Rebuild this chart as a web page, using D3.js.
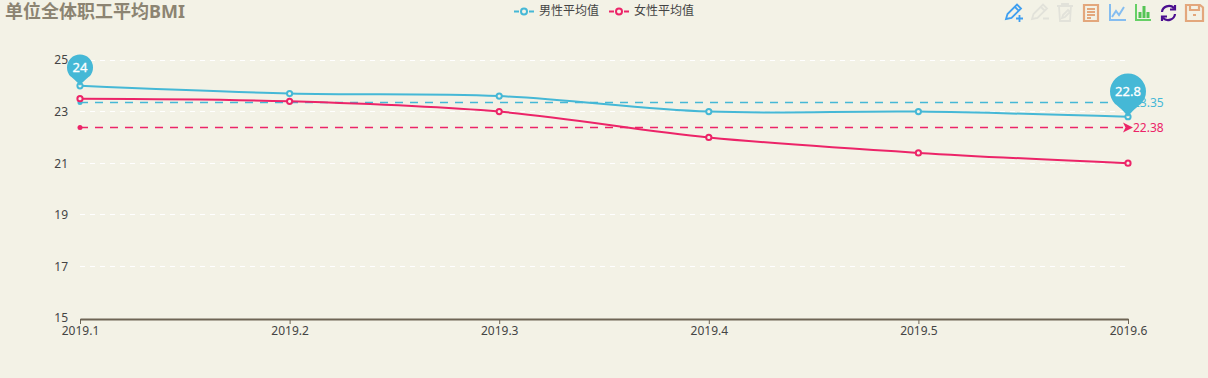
<!DOCTYPE html>
<html>
<head>
<meta charset="utf-8">
<script src="https://d3js.org/d3.v7.min.js"></script>
<style>
  html, body { margin: 0; padding: 0; background: #f3f2e6; }
  svg { display: block; }
  text { font-family: "Noto Sans", "Noto Sans CJK SC", sans-serif; }
</style>
</head>
<body>
<div id="canvas"></div>
<script>
"use strict";

/* data */
let months = ["2019.1", "2019.2", "2019.3", "2019.4", "2019.5", "2019.6"];
let maleValues = [24, 23.7, 23.6, 23, 23, 22.8];
let femaleValues = [23.5, 23.4, 23, 22, 21.4, 21];
let yTicks = [15, 17, 19, 21, 23, 25];
let maleMean = 23.35;
let femaleMean = 22.38;
let seriesNames = ["男性平均值", "女性平均值"];

/* config */
let svgWidth = 1208;
let svgHeight = 378;
let marginLeft = 80;
let marginRight = 80;
let marginTop = 60;
let marginBottom = 60;

let maleColor = "#45b8d6";
let femaleColor = "#ec2468";
let axisColor = "#6e6555";
let textColor = "#444444";

let svg = d3.select("#canvas")
    .append("svg")
    .attr("width", svgWidth)
    .attr("height", svgHeight);

let xScale = d3.scalePoint()
    .domain(months)
    .range([marginLeft, svgWidth - marginRight]);

let yScale = d3.scaleLinear()
    .domain([15, 25])
    .range([svgHeight - marginBottom, marginTop]);

/* title */
svg.append("text")
    .attr("x", 5)
    .attr("y", 18)
    .attr("font-size", 18)
    .attr("font-weight", "bold")
    .attr("fill", "#8c8472")
    .text("单位全体职工平均BMI");

/* legend */
[[514, maleColor], [609, femaleColor]].forEach(function(item, i) {
    let g = svg.append("g").attr("transform", "translate(" + item[0] + ",11.5)");
    g.append("line")
        .attr("x1", 0).attr("x2", 20)
        .attr("stroke", item[1])
        .attr("stroke-width", 2)
        .attr("stroke-dasharray", "5,10,5");
    g.append("circle")
        .attr("cx", 10)
        .attr("r", 3)
        .attr("fill", "#f3f2e6")
        .attr("stroke", item[1])
        .attr("stroke-width", 2);
    g.append("text")
        .attr("x", 25)
        .attr("y", 3)
        .attr("font-size", 12)
        .attr("fill", textColor)
        .text(seriesNames[i]);
});

/* y axis: labels + white dashed grid */
let yAxis = svg.append("g")
    .attr("transform", "translate(" + marginLeft + ",0)")
    .call(d3.axisLeft(yScale)
        .tickValues(yTicks)
        .tickSize(0)
        .tickPadding(12)
        .tickFormat(d3.format("d")));
yAxis.select(".domain").remove();
yAxis.attr("font-family", null);
yAxis.selectAll("text")
    .attr("font-size", 12)
    .attr("fill", textColor);

svg.selectAll("line.grid")
    .data(yTicks.filter(d => d !== 15))
    .join("line")
    .attr("class", "grid")
    .attr("x1", marginLeft)
    .attr("x2", svgWidth - marginRight)
    .attr("y1", d => Math.floor(yScale(d)) + 0.5)
    .attr("y2", d => Math.floor(yScale(d)) + 0.5)
    .attr("stroke", "#ffffff")
    .attr("stroke-width", 1)
    .attr("stroke-dasharray", "5,5");

/* x axis */
let xAxis = svg.append("g")
    .attr("transform", "translate(0," + (svgHeight - marginBottom + 1) + ")")
    .call(d3.axisBottom(xScale).tickSize(5).tickPadding(2).tickSizeOuter(0));
xAxis.attr("font-family", null);
xAxis.select(".domain")
    .attr("stroke", axisColor)
    .attr("stroke-width", 2);
xAxis.selectAll("line").attr("stroke", axisColor);
xAxis.selectAll("text")
    .attr("font-size", 12)
    .attr("fill", textColor);

/* mean lines */
function drawMean(value, color) {
    let y = yScale(value);
    let x0 = xScale(months[0]);
    let x1 = xScale(months[months.length - 1]);
    svg.append("line")
        .attr("x1", x0).attr("x2", x1 - 4)
        .attr("y1", y).attr("y2", y)
        .attr("stroke", color)
        .attr("stroke-width", 1.5)
        .attr("stroke-dasharray", "8,7");
    svg.append("circle")
        .attr("cx", x0).attr("cy", y)
        .attr("r", 2.5)
        .attr("fill", color);
    svg.append("path")
        .attr("d", "M" + (x1 - 5) + "," + (y - 5) + "L" + (x1 + 5) + "," + y +
            "L" + (x1 - 5) + "," + (y + 5) + "L" + (x1 - 2.5) + "," + y + "Z")
        .attr("fill", color);
    svg.append("text")
        .attr("x", x1 + 5)
        .attr("y", y + 4)
        .attr("font-size", 12)
        .attr("fill", color)
        .text(value);
}
drawMean(maleMean, maleColor);
drawMean(femaleMean, femaleColor);

/* series */
let lineGen = d3.line()
    .x((d, i) => xScale(months[i]))
    .y(d => yScale(d))
    .curve(d3.curveCardinal.tension(0));

function drawSeries(values, color) {
    svg.append("path")
        .datum(values)
        .attr("d", lineGen)
        .attr("fill", "none")
        .attr("stroke", color)
        .attr("stroke-width", 2);
    svg.append("g").selectAll("circle")
        .data(values)
        .join("circle")
        .attr("cx", (d, i) => xScale(months[i]))
        .attr("cy", d => yScale(d))
        .attr("r", 2.6)
        .attr("fill", "#f3f2e6")
        .attr("stroke", color)
        .attr("stroke-width", 2);
}
drawSeries(maleValues, maleColor);
drawSeries(femaleValues, femaleColor);

/* max / min pins on the male series */
function drawPin(month, value, r) {
    let x = xScale(month);
    let tip = yScale(value);
    let cy = tip - r * 1.4;
    let a = r * 0.72;
    let b = cy + r * 0.69;
    svg.append("path")
        .attr("d", "M" + x + "," + tip +
            "C" + (x - r * 0.2) + "," + (tip - r * 0.3) + " " + (x - a * 0.8) + "," + (b + r * 0.1) + " " + (x - a) + "," + b +
            "A" + r + "," + r + " 0 1 1 " + (x + a) + "," + b +
            "C" + (x + a * 0.8) + "," + (b + r * 0.1) + " " + (x + r * 0.2) + "," + (tip - r * 0.3) + " " + x + "," + tip + "Z")
        .attr("fill", maleColor);
    svg.append("text")
        .attr("x", x)
        .attr("y", cy + 4.5)
        .attr("text-anchor", "middle")
        .attr("font-size", 13)
        .attr("fill", "#ffffff")
        .attr("stroke", "#ffffff")
        .attr("stroke-width", 0.3)
        .text(value);
}
drawPin(months[0], d3.max(maleValues), 13);
drawPin(months[5], d3.min(maleValues), 18);

/* toolbox icons */
let iconPaths = [
    {x: 1005, color: "#3f9ff0", width: 1.8, d: "M1,15 L2.5,10 L12,0.5 L16,4.5 L6.5,14 Z M10,3 L14,7 M11,14.5 H18 M14.5,11 V18"},
    {x: 1031, color: "#e2e2da", width: 1.8, d: "M1,15 L2.5,10 L12,0.5 L16,4.5 L6.5,14 Z M10,3 L14,7 M12,14.5 H18"},
    {x: 1057, color: "#e2e2da", width: 1.8, d: "M0,2 H16 M5,2 V0 H11 V2 M2,2 L3,17 H13 L14,2 M5,14 L6,11 L11,6 L13,8 L8,13 Z"},
    {x: 1084, color: "#e3a77c", width: 2.2, d: "M0,1 H14 V17 H0 Z M3,5 H11 M3,8 H11 M3,11 H11 M3,14 H7"},
    {x: 1109, color: "#85bdf0", width: 2, d: "M1,0 V16 H17 M3,13 L7,7 L10,11 L15,3"},
    {x: 1135, color: "#66d066", width: 2, d: "M1,0 V16 H16"},
    {x: 1135, color: "#55c455", width: 3, d: "M5,14 V8 M9,14 V2 M13,14 V8"},
    {x: 1160, color: "#4b0f8f", width: 2.2, d: "M2,8 A7,6.5 0 0 1 14,4 M15,1 V5.5 H10 M15,10 A7,6.5 0 0 1 3,14 M2,17 V12.5 H7"},
    {x: 1186, color: "#e3a77c", width: 2.2, d: "M0,1 H14 L17,3.5 V17 H0 Z M4,1 V6 H13 V1 M7,11 H10"}
];

iconPaths.forEach(function(icon) {
    svg.append("path")
        .attr("transform", "translate(" + icon.x + ",4)")
        .attr("d", icon.d)
        .attr("fill", "none")
        .attr("stroke", icon.color)
        .attr("stroke-width", icon.width);
});
</script>
</body>
</html>
